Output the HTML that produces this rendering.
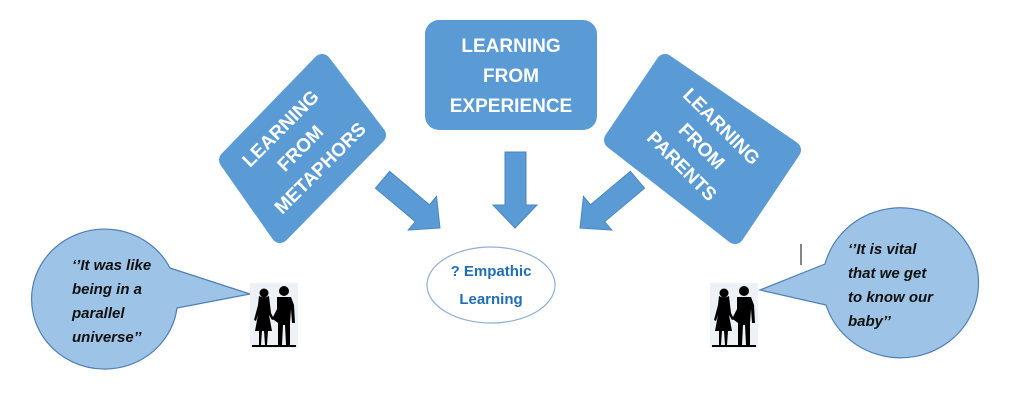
<!DOCTYPE html>
<html><head><style>
html,body{margin:0;padding:0;background:#fff;}
svg{display:block;}
.t{font-family:"Liberation Sans",sans-serif;font-weight:bold;fill:#fff;font-size:19px;text-anchor:middle;}
.q{font-family:"Liberation Sans",sans-serif;font-weight:bold;font-style:italic;fill:#111;font-size:15px;}
</style></head><body>
<svg width="1024" height="415" viewBox="0 0 1024 415" xmlns="http://www.w3.org/2000/svg">
<defs>
<g id="couple">
<rect x="0" y="0" width="48" height="65" fill="#eef1f6"/>
<g fill="#000">
<circle cx="14" cy="10" r="4.5"/>
<path d="M9 13 Q14 16 19 13 L21 30 L24 36 L22 37 L19 32 L22 48 L18 48 L17 62 L15 62 L14 48 L12 48 L11 62 L9 62 L9 48 L5 48 L8 32 L6 38 L4 37 L8 22 Z"/>
<circle cx="34" cy="8" r="5"/>
<path d="M27 14 L41 14 L44 22 L45 40 L42 40 L41 26 L40 40 L40 62 L36 62 L35 42 L33 42 L32 62 L28 62 L28 40 L24 37 L22 36 L27 26 Z"/>
<rect x="2" y="62" width="44" height="2"/>
</g>
</g>
</defs>

<rect x="425" y="20" width="172" height="110" rx="14" fill="#5b9bd5"/>
<text class="t" x="511" y="52">LEARNING</text>
<text class="t" x="511" y="82">FROM</text>
<text class="t" x="511" y="112">EXPERIENCE</text>

<polygon points="322,63 377,135 280,234 228,160" fill="#5b9bd5" stroke="#5b9bd5" stroke-width="18" stroke-linejoin="round"/>
<g transform="translate(302,150) rotate(-45)">
<text class="t" x="0" y="-24">LEARNING</text>
<text class="t" x="0" y="4">FROM</text>
<text class="t" x="0" y="32">METAPHORS</text>
</g>

<polygon points="665,63 792,150 735,235 613,140" fill="#5b9bd5" stroke="#5b9bd5" stroke-width="18" stroke-linejoin="round"/>
<g transform="translate(700,148) rotate(45)">
<text class="t" x="0" y="-24">LEARNING</text>
<text class="t" x="0" y="4">FROM</text>
<text class="t" x="0" y="32">PARENTS</text>
</g>

<g fill="#5b9bd5" stroke="#4a86c0" stroke-width="1">
<polygon points="505,152 526,152 526,205 537,205 515,228 493,205 505,205"/>
<g transform="translate(440,228) rotate(-50)">
<polygon points="0,0 -22,-23 -11,-23 -11,-75 11,-75 11,-23 22,-23"/>
</g>
<g transform="translate(580,228) rotate(50)">
<polygon points="0,0 -22,-23 -11,-23 -11,-75 11,-75 11,-23 22,-23"/>
</g>
</g>

<ellipse cx="491" cy="285" rx="64" ry="38" fill="#fff" stroke="#8fb0d6" stroke-width="1.2"/>
<text x="491" y="276" text-anchor="middle" font-family="Liberation Sans,sans-serif" font-weight="bold" font-size="15" fill="#1f6fb5">? Empathic</text>
<text x="491" y="304" text-anchor="middle" font-family="Liberation Sans,sans-serif" font-weight="bold" font-size="15" fill="#1f6fb5">Learning</text>

<path d="M 170 268 L 250 294 L 177 308 A 73 70 0 1 1 170 268 Z" fill="#9dc3e6" stroke="#4f7fb5" stroke-width="1.2"/>
<text class="q" x="72" y="270">‘’It was like</text>
<text class="q" x="72" y="294">being in a</text>
<text class="q" x="72" y="318">parallel</text>
<text class="q" x="72" y="342">universe’’</text>

<path d="M 825 264 L 760 290 L 826 305 A 78 75 0 1 0 825 264 Z" fill="#9dc3e6" stroke="#4f7fb5" stroke-width="1.2"/>
<text class="q" x="848" y="254">‘’It is vital</text>
<text class="q" x="848" y="278">that we get</text>
<text class="q" x="848" y="302">to know our</text>
<text class="q" x="848" y="326">baby’’</text>

<line x1="801" y1="244" x2="801" y2="265" stroke="#333" stroke-width="1.2"/>

<use href="#couple" x="250" y="283"/>
<use href="#couple" x="710" y="283"/>
</svg>
</body></html>
